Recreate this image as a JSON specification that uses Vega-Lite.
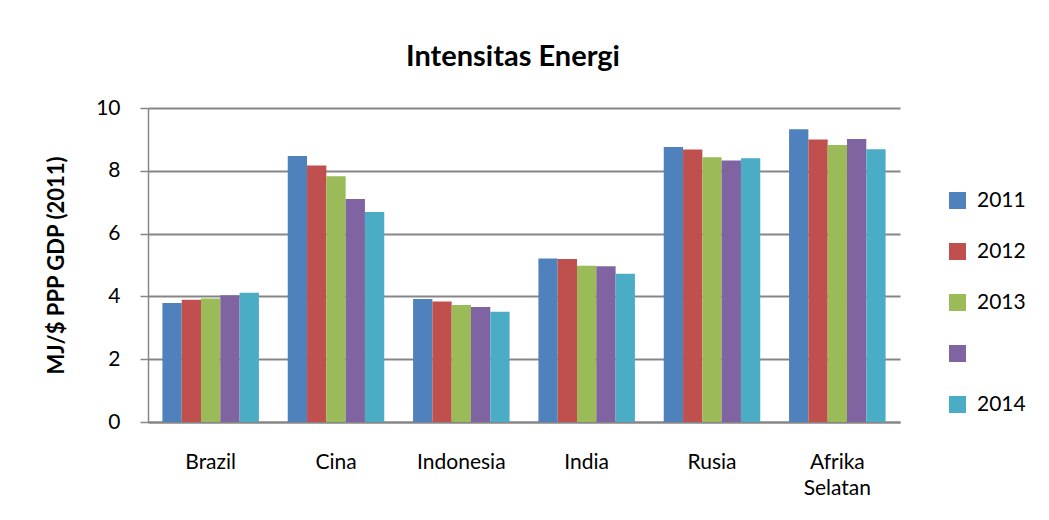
{
  "$schema": "https://vega.github.io/schema/vega-lite/v6.json",
  "autosize": "none",
  "width": 752,
  "height": 314,
  "padding": {"left": 148, "top": 108, "right": 149, "bottom": 98},
  "background": "#ffffff",
  "title": {
    "text": "Intensitas Energi",
    "font": "Lato",
    "fontSize": 29,
    "fontWeight": "bold",
    "color": "#000000",
    "anchor": "middle",
    "offset": 25,
    "dx": -11
  },
  "data": {
    "values": [
      {"negara": "Brazil", "tahun": "2011", "nilai": 3.79},
      {"negara": "Brazil", "tahun": "2012", "nilai": 3.89},
      {"negara": "Brazil", "tahun": "2013", "nilai": 3.93},
      {"negara": "Brazil", "tahun": "", "nilai": 4.04},
      {"negara": "Brazil", "tahun": "2014", "nilai": 4.12},
      {"negara": "Cina", "tahun": "2011", "nilai": 8.47},
      {"negara": "Cina", "tahun": "2012", "nilai": 8.17},
      {"negara": "Cina", "tahun": "2013", "nilai": 7.83},
      {"negara": "Cina", "tahun": "", "nilai": 7.1},
      {"negara": "Cina", "tahun": "2014", "nilai": 6.69},
      {"negara": "Indonesia", "tahun": "2011", "nilai": 3.92},
      {"negara": "Indonesia", "tahun": "2012", "nilai": 3.84},
      {"negara": "Indonesia", "tahun": "2013", "nilai": 3.73},
      {"negara": "Indonesia", "tahun": "", "nilai": 3.66},
      {"negara": "Indonesia", "tahun": "2014", "nilai": 3.51},
      {"negara": "India", "tahun": "2011", "nilai": 5.21},
      {"negara": "India", "tahun": "2012", "nilai": 5.19},
      {"negara": "India", "tahun": "2013", "nilai": 4.98},
      {"negara": "India", "tahun": "", "nilai": 4.96},
      {"negara": "India", "tahun": "2014", "nilai": 4.72},
      {"negara": "Rusia", "tahun": "2011", "nilai": 8.76},
      {"negara": "Rusia", "tahun": "2012", "nilai": 8.68},
      {"negara": "Rusia", "tahun": "2013", "nilai": 8.43},
      {"negara": "Rusia", "tahun": "", "nilai": 8.33},
      {"negara": "Rusia", "tahun": "2014", "nilai": 8.4},
      {"negara": "Afrika Selatan", "tahun": "2011", "nilai": 9.32},
      {"negara": "Afrika Selatan", "tahun": "2012", "nilai": 9.0},
      {"negara": "Afrika Selatan", "tahun": "2013", "nilai": 8.82},
      {"negara": "Afrika Selatan", "tahun": "", "nilai": 9.01},
      {"negara": "Afrika Selatan", "tahun": "2014", "nilai": 8.69}
    ]
  },
  "mark": {"type": "bar"},
  "encoding": {
    "x": {
      "field": "negara",
      "type": "nominal",
      "sort": ["Brazil", "Cina", "Indonesia", "India", "Rusia", "Afrika Selatan"],
      "scale": {"paddingInner": 0.23, "paddingOuter": 0.115},
      "axis": {
        "title": null,
        "labelAngle": 0,
        "labelFont": "Lato",
        "labelFontSize": 21,
        "labelColor": "#000000",
        "labelPadding": 29,
        "labelLineHeight": 26,
        "labelExpr": "split(datum.label, ' ')",
        "ticks": false,
        "domainColor": "#868686",
        "domainWidth": 2
      }
    },
    "xOffset": {
      "field": "tahun",
      "type": "nominal",
      "sort": ["2011", "2012", "2013", "", "2014"]
    },
    "y": {
      "field": "nilai",
      "type": "quantitative",
      "scale": {"domain": [0, 10], "nice": false},
      "axis": {
        "title": "MJ/$ PPP GDP (2011)",
        "titleFont": "Lato",
        "titleFontSize": 22,
        "titleFontWeight": "bold",
        "titleColor": "#000000",
        "titlePadding": 27,
        "values": [0, 2, 4, 6, 8, 10],
        "labelFont": "Lato",
        "labelFontSize": 21,
        "labelColor": "#000000",
        "labelPadding": 20,
        "tickSize": 8,
        "tickColor": "#868686",
        "tickWidth": 1.5,
        "domainColor": "#868686",
        "domainWidth": 1.5,
        "gridColor": "#868686",
        "gridWidth": 2
      }
    },
    "color": {
      "field": "tahun",
      "type": "nominal",
      "scale": {
        "domain": ["2011", "2012", "2013", "", "2014"],
        "range": ["#4F81BD", "#C0504D", "#9BBB59", "#8064A2", "#4BACC6"]
      },
      "legend": {
        "title": null,
        "orient": "none",
        "legendX": 799,
        "legendY": 82,
        "symbolType": "square",
        "symbolSize": 289,
        "symbolStrokeWidth": 0,
        "labelFont": "Lato",
        "labelFontSize": 21,
        "labelColor": "#000000",
        "labelOffset": 9,
        "rowPadding": 29
      }
    }
  },
  "config": {
    "view": {"stroke": null},
    "axis": {"gridOpacity": 1}
  }
}
